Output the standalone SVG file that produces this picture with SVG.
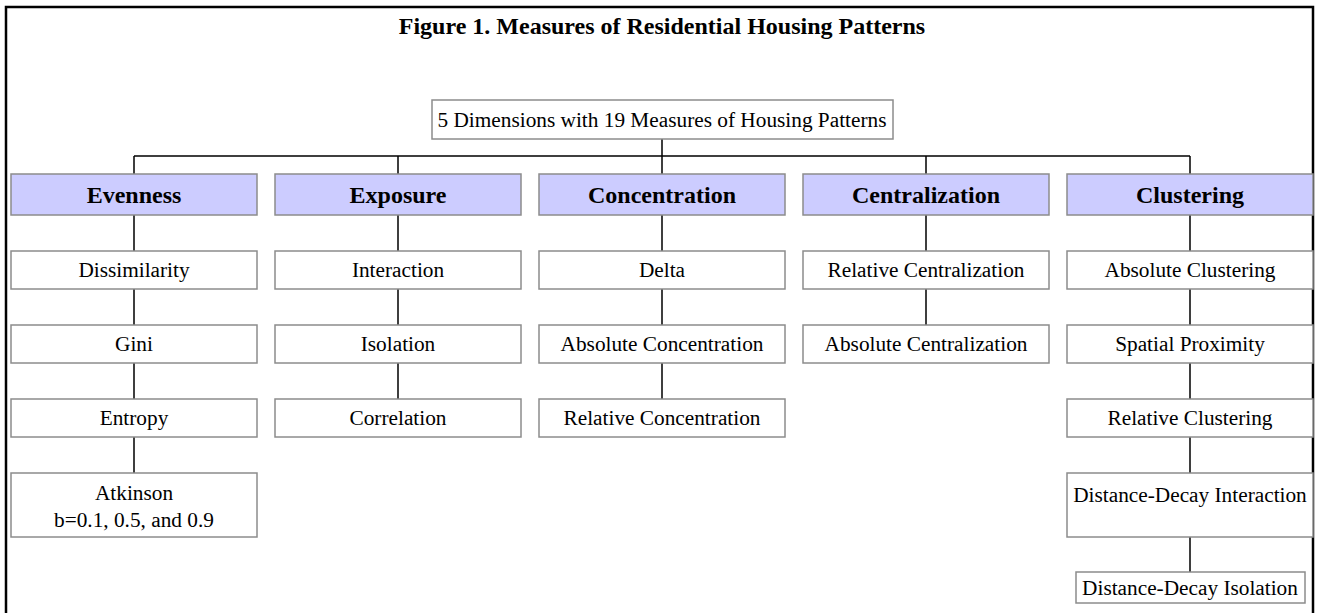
<svg xmlns="http://www.w3.org/2000/svg" width="1317" height="613" viewBox="0 0 1317 613">
<style>
  .frame { fill: none; stroke: #000; stroke-width: 2.5; }
  .box { fill: #fff; stroke: #8c8c8c; stroke-width: 1.5; }
  .dim { fill: #ccccff; stroke: #8c8c8c; stroke-width: 1.5; }
  .t { font-family: "Liberation Serif", "Times New Roman", serif; font-size: 21.3px; fill: #000; text-anchor: middle; }
  .b { font-family: "Liberation Serif", "Times New Roman", serif; font-size: 24px; font-weight: bold; fill: #000; text-anchor: middle; }
  .conn { stroke: #000; stroke-width: 1.5; fill: none; }
</style>
<rect x="0" y="0" width="1317" height="613" fill="#fff"/>
<rect class="frame" x="6" y="7" width="1307" height="640"/>
<text class="b" x="662" y="34">Figure 1. Measures of Residential Housing Patterns</text>

<g id="connectors">
  <path class="conn" d="M662 139V156M134 156H1190M134 156V174M398 156V174M662 156V174M926 156V174M1190 156V174"/>
  <path class="conn" d="M134 215V251M134 289V325M134 363V399M134 437V473"/>
  <path class="conn" d="M398 215V251M398 289V325M398 363V399"/>
  <path class="conn" d="M662 215V251M662 289V325M662 363V399"/>
  <path class="conn" d="M926 215V251M926 289V325"/>
  <path class="conn" d="M1190 215V251M1190 289V325M1190 363V399M1190 437V473M1190 537V572"/>
</g>

<g id="root"><rect class="box" x="432" y="100" width="461" height="39"/><text class="t" x="662" y="127">5 Dimensions with 19 Measures of Housing Patterns</text></g>

<g id="evenness"><rect class="dim" x="11" y="174" width="246" height="41"/><text class="b" x="134" y="203">Evenness</text></g>
<g id="exposure"><rect class="dim" x="275" y="174" width="246" height="41"/><text class="b" x="398" y="203">Exposure</text></g>
<g id="concentration"><rect class="dim" x="539" y="174" width="246" height="41"/><text class="b" x="662" y="203">Concentration</text></g>
<g id="centralization"><rect class="dim" x="803" y="174" width="246" height="41"/><text class="b" x="926" y="203">Centralization</text></g>
<g id="clustering"><rect class="dim" x="1067" y="174" width="246" height="41"/><text class="b" x="1190" y="203">Clustering</text></g>

<g id="dissimilarity"><rect class="box" x="11" y="251" width="246" height="38"/><text class="t" x="134" y="277">Dissimilarity</text></g>
<g id="gini"><rect class="box" x="11" y="325" width="246" height="38"/><text class="t" x="134" y="351">Gini</text></g>
<g id="entropy"><rect class="box" x="11" y="399" width="246" height="38"/><text class="t" x="134" y="425">Entropy</text></g>
<g id="atkinson"><rect class="box" x="11" y="473" width="246" height="64"/><text class="t" x="134" y="500">Atkinson</text><text class="t" x="134" y="527">b=0.1, 0.5, and 0.9</text></g>

<g id="interaction"><rect class="box" x="275" y="251" width="246" height="38"/><text class="t" x="398" y="277">Interaction</text></g>
<g id="isolation"><rect class="box" x="275" y="325" width="246" height="38"/><text class="t" x="398" y="351">Isolation</text></g>
<g id="correlation"><rect class="box" x="275" y="399" width="246" height="38"/><text class="t" x="398" y="425">Correlation</text></g>

<g id="delta"><rect class="box" x="539" y="251" width="246" height="38"/><text class="t" x="662" y="277">Delta</text></g>
<g id="absolute-concentration"><rect class="box" x="539" y="325" width="246" height="38"/><text class="t" x="662" y="351">Absolute Concentration</text></g>
<g id="relative-concentration"><rect class="box" x="539" y="399" width="246" height="38"/><text class="t" x="662" y="425">Relative Concentration</text></g>

<g id="relative-centralization"><rect class="box" x="803" y="251" width="246" height="38"/><text class="t" x="926" y="277">Relative Centralization</text></g>
<g id="absolute-centralization"><rect class="box" x="803" y="325" width="246" height="38"/><text class="t" x="926" y="351">Absolute Centralization</text></g>

<g id="absolute-clustering"><rect class="box" x="1067" y="251" width="246" height="38"/><text class="t" x="1190" y="277">Absolute Clustering</text></g>
<g id="spatial-proximity"><rect class="box" x="1067" y="325" width="246" height="38"/><text class="t" x="1190" y="351">Spatial Proximity</text></g>
<g id="relative-clustering"><rect class="box" x="1067" y="399" width="246" height="38"/><text class="t" x="1190" y="425">Relative Clustering</text></g>
<g id="distance-decay-interaction"><rect class="box" x="1067" y="473" width="246" height="64"/><text class="t" x="1190" y="502">Distance-Decay Interaction</text></g>
<g id="distance-decay-isolation"><rect class="box" x="1076" y="572" width="229" height="31"/><text class="t" x="1190" y="595">Distance-Decay Isolation</text></g>
</svg>
